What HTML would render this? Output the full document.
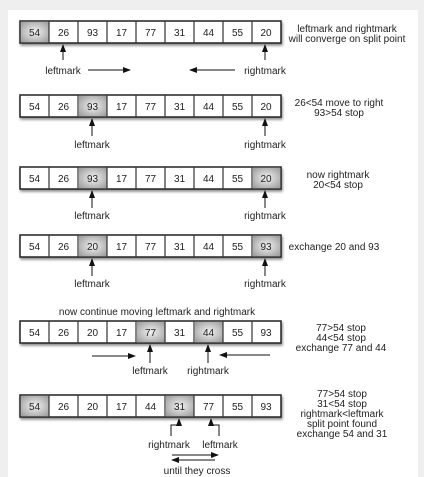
<!DOCTYPE html>
<html><head><meta charset="utf-8"><style>
html,body{margin:0;padding:0;background:#efefef;}
svg{display:block;}
text{font-family:"Liberation Sans",sans-serif;fill:#222;}
.n{font-size:10px;text-anchor:middle;}
.l{font-size:10px;text-anchor:middle;}
</style></head><body>
<svg width="424" height="477" viewBox="0 0 424 477" xmlns="http://www.w3.org/2000/svg">
<defs>
<radialGradient id="g" cx="50%" cy="50%" r="70%"><stop offset="0" stop-color="#f2f2f2"/><stop offset="1" stop-color="#9a9a9a"/></radialGradient>
<marker id="a" markerWidth="8" markerHeight="8" refX="7" refY="4" orient="auto" markerUnits="userSpaceOnUse"><path d="M0,1 L8,4 L0,7 Z" fill="#111"/></marker>
<filter id="s" x="-5%" y="-20%" width="110%" height="150%"><feDropShadow dx="1" dy="2" stdDeviation="1.2" flood-color="#000" flood-opacity="0.45"/></filter>
</defs>
<rect x="8" y="10" width="410" height="467" fill="#fff"/>
<g stroke="#111" stroke-width="1" fill="none" marker-end="url(#a)">
<line x1="63" y1="60" x2="63" y2="45"/><line x1="265" y1="60" x2="265" y2="45"/>
<line x1="88" y1="70" x2="130" y2="70"/><line x1="235" y1="70" x2="190" y2="70"/>
<line x1="92" y1="136" x2="92" y2="119"/><line x1="265" y1="136" x2="265" y2="119"/>
<line x1="92" y1="208" x2="92" y2="191"/><line x1="265" y1="208" x2="265" y2="191"/>
<line x1="92" y1="276" x2="92" y2="259"/><line x1="265" y1="276" x2="265" y2="259"/>
<line x1="150" y1="363" x2="150" y2="345"/><line x1="208" y1="363" x2="208" y2="345"/>
<line x1="92" y1="356" x2="135" y2="356"/><line x1="270" y1="355" x2="220" y2="355"/>
<polyline points="171,436 171,425 179,425 179,419"/>
<polyline points="219,436 219,425 211,425 211,419"/>
<line x1="172" y1="455" x2="218" y2="455"/><line x1="215" y1="460" x2="172" y2="460"/>
</g>
<g filter="url(#s)">
<rect x="20" y="21" width="261" height="22" fill="#fff" stroke="#222" stroke-width="1.5"/>
<rect x="20" y="95" width="261" height="22" fill="#fff" stroke="#222" stroke-width="1.5"/>
<rect x="20" y="167" width="261" height="22" fill="#fff" stroke="#222" stroke-width="1.5"/>
<rect x="20" y="235" width="261" height="22" fill="#fff" stroke="#222" stroke-width="1.5"/>
<rect x="20" y="321" width="261" height="22" fill="#fff" stroke="#222" stroke-width="1.5"/>
<rect x="20" y="395" width="261" height="22" fill="#fff" stroke="#222" stroke-width="1.5"/>
</g>
<g fill="url(#g)">
<rect x="21" y="22" width="28" height="20"/>
<rect x="79" y="96" width="28" height="20"/>
<rect x="79" y="168" width="28" height="20"/><rect x="253" y="168" width="27" height="20"/>
<rect x="79" y="236" width="28" height="20"/><rect x="253" y="236" width="27" height="20"/>
<rect x="137" y="322" width="28" height="20"/><rect x="195" y="322" width="28" height="20"/>
<rect x="21" y="396" width="28" height="20"/><rect x="166" y="396" width="28" height="20"/>
</g>
<g stroke="#333" stroke-width="1.2">
<path d="M49,21v22M78,21v22M107,21v22M136,21v22M165,21v22M194,21v22M223,21v22M252,21v22"/>
<path d="M49,95v22M78,95v22M107,95v22M136,95v22M165,95v22M194,95v22M223,95v22M252,95v22"/>
<path d="M49,167v22M78,167v22M107,167v22M136,167v22M165,167v22M194,167v22M223,167v22M252,167v22"/>
<path d="M49,235v22M78,235v22M107,235v22M136,235v22M165,235v22M194,235v22M223,235v22M252,235v22"/>
<path d="M49,321v22M78,321v22M107,321v22M136,321v22M165,321v22M194,321v22M223,321v22M252,321v22"/>
<path d="M49,395v22M78,395v22M107,395v22M136,395v22M165,395v22M194,395v22M223,395v22M252,395v22"/>
</g>
<g>
<text x="34.5" y="36" class="n">54</text><text x="63.5" y="36" class="n">26</text><text x="92.5" y="36" class="n">93</text><text x="121.5" y="36" class="n">17</text><text x="150.5" y="36" class="n">77</text><text x="179.5" y="36" class="n">31</text><text x="208.5" y="36" class="n">44</text><text x="237.5" y="36" class="n">55</text><text x="266" y="36" class="n">20</text>
<text x="34.5" y="110" class="n">54</text><text x="63.5" y="110" class="n">26</text><text x="92.5" y="110" class="n">93</text><text x="121.5" y="110" class="n">17</text><text x="150.5" y="110" class="n">77</text><text x="179.5" y="110" class="n">31</text><text x="208.5" y="110" class="n">44</text><text x="237.5" y="110" class="n">55</text><text x="266" y="110" class="n">20</text>
<text x="34.5" y="182" class="n">54</text><text x="63.5" y="182" class="n">26</text><text x="92.5" y="182" class="n">93</text><text x="121.5" y="182" class="n">17</text><text x="150.5" y="182" class="n">77</text><text x="179.5" y="182" class="n">31</text><text x="208.5" y="182" class="n">44</text><text x="237.5" y="182" class="n">55</text><text x="266" y="182" class="n">20</text>
<text x="34.5" y="250" class="n">54</text><text x="63.5" y="250" class="n">26</text><text x="92.5" y="250" class="n">20</text><text x="121.5" y="250" class="n">17</text><text x="150.5" y="250" class="n">77</text><text x="179.5" y="250" class="n">31</text><text x="208.5" y="250" class="n">44</text><text x="237.5" y="250" class="n">55</text><text x="266" y="250" class="n">93</text>
<text x="34.5" y="336" class="n">54</text><text x="63.5" y="336" class="n">26</text><text x="92.5" y="336" class="n">20</text><text x="121.5" y="336" class="n">17</text><text x="150.5" y="336" class="n">77</text><text x="179.5" y="336" class="n">31</text><text x="208.5" y="336" class="n">44</text><text x="237.5" y="336" class="n">55</text><text x="266" y="336" class="n">93</text>
<text x="34.5" y="410" class="n">54</text><text x="63.5" y="410" class="n">26</text><text x="92.5" y="410" class="n">20</text><text x="121.5" y="410" class="n">17</text><text x="150.5" y="410" class="n">44</text><text x="179.5" y="410" class="n">31</text><text x="208.5" y="410" class="n">77</text><text x="237.5" y="410" class="n">55</text><text x="266" y="410" class="n">93</text>
</g>
<g>
<text x="63" y="74" class="l">leftmark</text><text x="265" y="74" class="l">rightmark</text>
<text x="92" y="148" class="l">leftmark</text><text x="265" y="148" class="l">rightmark</text>
<text x="92" y="219" class="l">leftmark</text><text x="265" y="219" class="l">rightmark</text>
<text x="92" y="287" class="l">leftmark</text><text x="265" y="287" class="l">rightmark</text>
<text x="157" y="315" class="l">now continue moving leftmark and rightmark</text>
<text x="150" y="374" class="l">leftmark</text><text x="208" y="374" class="l">rightmark</text>
<text x="169" y="448" class="l">rightmark</text><text x="220" y="448" class="l">leftmark</text>
<text x="197" y="474" class="l">until they cross</text>
<text x="347" y="32" class="l">leftmark and rightmark</text>
<text x="347" y="42" class="l">will converge on split point</text>
<text x="339" y="106" class="l">26&lt;54 move to right</text>
<text x="339" y="116" class="l">93&gt;54 stop</text>
<text x="338" y="178" class="l">now rightmark</text>
<text x="338" y="188" class="l">20&lt;54 stop</text>
<text x="334" y="250" class="l">exchange 20 and 93</text>
<text x="341" y="331" class="l">77&gt;54 stop</text>
<text x="341" y="341" class="l">44&lt;54 stop</text>
<text x="341" y="351" class="l">exchange 77 and 44</text>
<text x="342" y="397" class="l">77&gt;54 stop</text>
<text x="342" y="407" class="l">31&lt;54 stop</text>
<text x="342" y="417" class="l">rightmark&lt;leftmark</text>
<text x="342" y="427" class="l">split point found</text>
<text x="342" y="437" class="l">exchange 54 and 31</text>
</g>
</svg>
</body></html>
